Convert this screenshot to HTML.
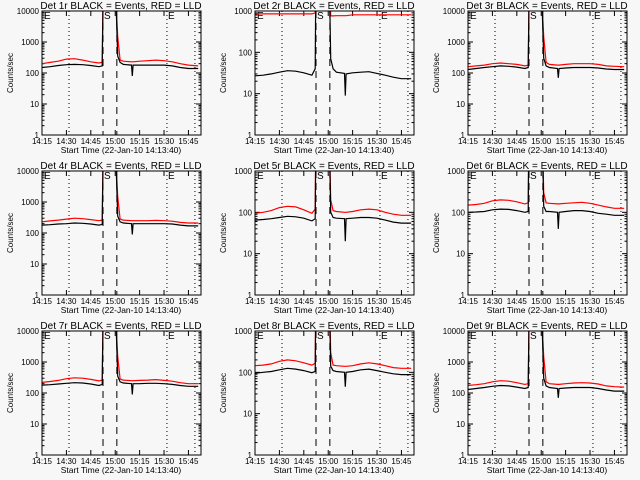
<!DOCTYPE html>
<html><head><meta charset="utf-8"><style>
html,body{margin:0;padding:0;background:#f7f7f7;}
svg{display:block;font-family:"Liberation Sans",sans-serif;}
</style></head><body>
<svg id="c" width="640" height="480" viewBox="0 0 640 480"></svg>
<script>
// minutes after 14:15
const times = [0,5,10,15,20,25,30,35,37,37.5,45.5,46.5,48,50,55,55.5,56,60,65,70,75,80,85,90,96];
const panelNames = ["Det 1r","Det 2r","Det 3r","Det 4r","Det 5r","Det 6r","Det 7r","Det 8r","Det 9r"];
const yMax = [10000,1000,10000,10000,1000,1000,10000,1000,10000];
const black1 = [150,160,175,185,190,185,175,160,170,20000,20000,350,220,190,180,80,180,180,180,180,180,170,150,140,140];
const red1 = [200,220,240,280,290,260,230,210,220,20000,20000,1500,260,240,230,230,230,240,250,260,250,230,200,180,170];
const black2 = [27,28,30,33,36,35,32,28,40,20000,20000,70,40,33,31,9,30,32,33,34,31,28,25,23,23];
const red2 = [850,850,850,850,850,850,850,850,900,20000,20000,760,760,770,770,770,770,810,810,810,810,810,810,810,810];
const black3 = [130,140,150,160,170,165,155,140,150,20000,20000,300,170,150,140,70,140,145,150,150,150,145,135,130,130];
const red3 = [160,170,180,200,210,200,190,170,180,20000,20000,1500,220,190,180,180,180,190,200,200,200,190,170,165,160];
const black4 = [180,185,195,200,210,205,195,180,190,20000,20000,350,230,210,200,90,200,200,200,200,200,195,180,170,170];
const red4 = [230,245,260,280,300,290,270,250,260,20000,20000,1500,280,260,250,250,250,250,250,255,250,240,220,210,210];
const black5 = [65,67,70,75,80,78,72,62,70,20000,20000,100,75,72,70,20,70,72,75,75,72,65,58,55,55];
const red5 = [95,100,110,130,140,135,115,95,120,20000,20000,200,110,105,100,100,100,105,115,120,115,100,90,85,85];
const black6 = [100,102,105,115,120,118,110,100,105,20000,20000,140,105,105,100,40,100,105,110,110,105,95,90,85,85];
const red6 = [150,155,165,190,200,195,180,160,170,20000,20000,300,170,165,160,160,160,165,170,175,165,150,135,125,125];
const black7 = [180,185,195,205,215,210,195,175,190,20000,20000,350,230,210,200,90,200,200,205,205,200,190,175,165,165];
const red7 = [220,235,255,290,310,300,275,245,260,20000,20000,1500,280,260,250,250,250,255,260,270,255,240,215,200,200];
const black8 = [95,100,105,115,125,120,110,98,105,20000,20000,140,110,105,100,45,100,105,115,120,110,100,92,88,88];
const red8 = [145,150,160,185,200,190,170,150,165,20000,20000,300,150,145,140,140,140,145,160,170,160,145,130,125,125];
const black9 = [130,140,150,165,175,170,155,140,150,20000,20000,300,170,150,140,70,140,145,150,150,150,140,125,115,115];
const red9 = [175,185,200,230,250,240,215,190,200,20000,20000,1500,230,200,190,190,190,200,210,215,210,195,170,160,155];
const blacks = [black1,black2,black3,black4,black5,black6,black7,black8,black9];
const reds = [red1,red2,red3,red4,red5,red6,red7,red8,red9];
const tickLabels = ["14:15","14:30","14:45","15:00","15:15","15:30","15:45"];
const tickMinutes = [0,15,30,45,60,75,90];

const svg = document.getElementById('c');
const NS = "http://www.w3.org/2000/svg";
function mk(tag, attrs, parent){ const e=document.createElementNS(NS,tag); for(const k in attrs) e.setAttribute(k,attrs[k]); parent.appendChild(e); return e; }

for(let p=0;p<9;p++){
  const ox=(p%3)*213, oy=Math.floor(p/3)*160;
  const L=ox+42, R=ox+201, T=oy+11, B=oy+135;
  const g = mk('g',{},svg);
  
  
  const decades = Math.log10(yMax[p]);
  const xs = m => L + m*1.627;
  const ys = v => B - Math.log10(Math.max(v,1))/decades*(B-T);
  const clipId='clip'+p;
  const cp = mk('clipPath',{id:clipId},g); mk('rect',{x:L,y:T,width:R-L,height:B-T},cp);
  // title
  const t = mk('text',{x:ox+121,y:oy+9,'font-size':10,'text-anchor':'middle',fill:'#000'},g);
  t.textContent = panelNames[p]+" BLACK = Events, RED = LLD";
  
  
  // y ticks
  for(let d=0; d<=decades; d++){
    const v=Math.pow(10,d), y=ys(v);
    mk('line',{x1:L,y1:y,x2:L+5,y2:y,stroke:'#000','stroke-width':1},g);
    mk('line',{x1:R,y1:y,x2:R-5,y2:y,stroke:'#000','stroke-width':1},g);
    const tl = mk('text',{x:L-3,y:y+3,'font-size':8,'text-anchor':'end',fill:'#000'},g);
    tl.textContent = String(v);
    
    
    if(d<decades){
      for(let k=2;k<10;k++){ const yy=ys(k*v);
        mk('line',{x1:L,y1:yy,x2:L+2.5,y2:yy,stroke:'#000','stroke-width':1},g);
        mk('line',{x1:R,y1:yy,x2:R-2.5,y2:yy,stroke:'#000','stroke-width':1},g); }
    }
  }
  // x ticks
  tickMinutes.forEach((m,i)=>{
    const x=xs(m);
    mk('line',{x1:x,y1:B,x2:x,y2:B-5,stroke:'#000'},g);
    mk('line',{x1:x,y1:T,x2:x,y2:T+5,stroke:'#000'},g);
    const tl=mk('text',{x:x,y:B+9,'font-size':8,'text-anchor':'middle',fill:'#000'},g);
    tl.textContent=tickLabels[i];
    
    
  });
  // dotted and dashed markers
  [16.6,76.8,94].forEach(m=>mk('line',{x1:xs(m),y1:T,x2:xs(m),y2:B,stroke:'#000','stroke-dasharray':'1,3'},g));
  [37.5,46].forEach(m=>mk('line',{x1:xs(m),y1:T,x2:xs(m),y2:B,stroke:'#000','stroke-dasharray':'7,5'},g));
  [["E",L+2],["S",xs(37.5)+1],["E",xs(76.8)+1]].forEach(a=>{
    const e=mk('text',{x:a[1],y:T+8,'font-size':10,fill:'#000'},g); e.textContent=a[0];
    
    
  });
  // series
  const mkLine=(arr,col,name)=>{
    const pts=times.map((m,i)=>xs(m).toFixed(1)+','+ys(arr[i]).toFixed(1)).join(' ');
    const pl=mk('polyline',{points:pts,fill:'none',stroke:col,'stroke-width':1.2,'clip-path':'url(#'+clipId+')'},g);
    
    
  };
  mkLine(reds[p],'#ff0000','lld-series');
  mkLine(blacks[p],'#000000','events-series');
  // frame
  mk('rect',{x:L,y:T,width:R-L,height:B-T,fill:'none',stroke:'#000','stroke-width':1},g);
  // axis titles
  const xt=mk('text',{x:ox+121,y:oy+153,'font-size':8.5,'text-anchor':'middle',fill:'#000'},g);
  xt.textContent="Start Time (22-Jan-10 14:13:40)";
  
  
  const yt=mk('text',{x:0,y:0,'font-size':8,'text-anchor':'middle',fill:'#000',transform:'translate('+(ox+13)+','+(oy+73)+') rotate(-90)'},g);
  yt.textContent="Counts/sec";
  
  
}
</script>
</body></html>
